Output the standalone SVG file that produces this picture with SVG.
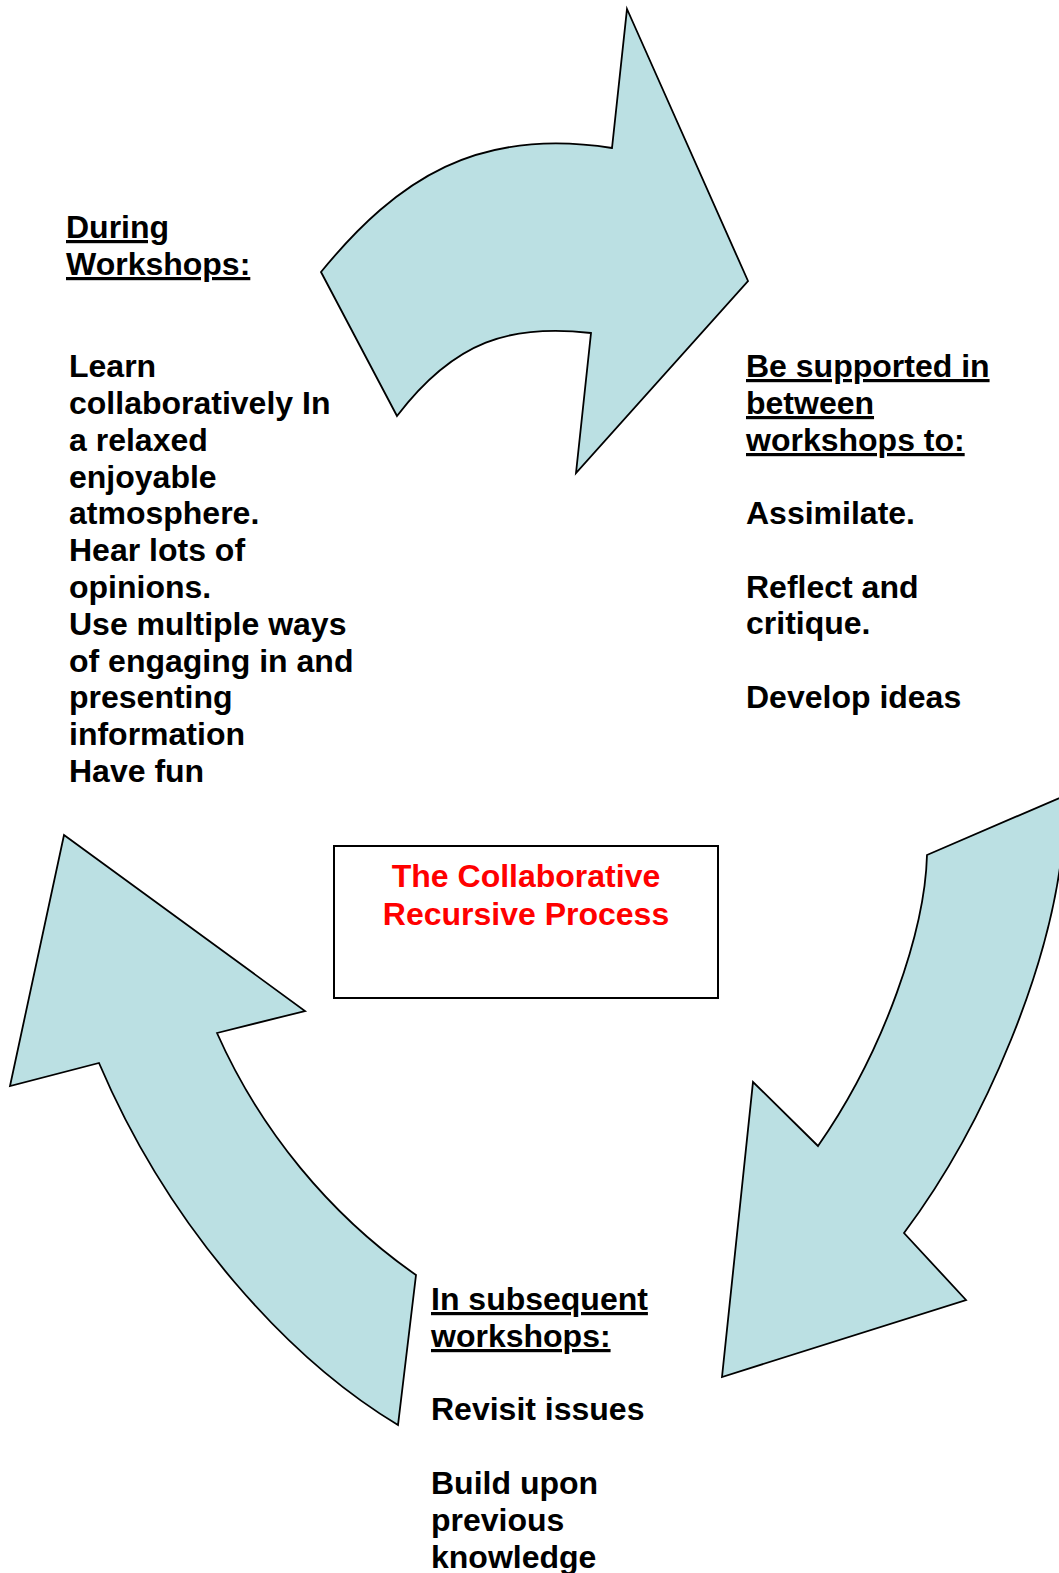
<svg xmlns="http://www.w3.org/2000/svg" width="1059" height="1573" viewBox="0 0 1059 1573">
<style>
.arrow{fill:#BBE0E3;stroke:#000;stroke-width:1.8;stroke-linejoin:miter}
.t{font-family:"Liberation Sans",Arial,sans-serif;font-weight:bold;font-size:32px;fill:#000}
.u{text-decoration:underline}
.red{fill:#FF0000}
.box{fill:#fff;stroke:#000;stroke-width:2}
</style>
<rect width="1059" height="1573" fill="#fff"/>
<g id="connectors">
<path class="arrow" d="M627,9 L748,281 L576,473 L591,333 C511,324 455,340 397,416 L321,272 C398,178 478,127 612,148 Z"/>
<path class="arrow" d="M927,855 L1064,796 L1064,830 C1055,960 985,1125 904,1233 L966,1300 L722,1377 L753,1082 L818,1146 C885,1050 925,930 927,855 Z"/>
<path class="arrow" d="M64,835 L305,1011 L217,1033 C260,1130 330,1215 416,1275 L398,1425 C290,1360 170,1230 99,1063 L10,1086 Z"/>
</g>
<g id="node-during">
<text class="t"><tspan class="u" x="66" y="238">During</tspan><tspan class="u" x="66" y="275">Workshops:</tspan></text>
<text class="t">
<tspan x="69" y="377">Learn</tspan>
<tspan x="69" y="414">collaboratively In</tspan>
<tspan x="69" y="451">a relaxed</tspan>
<tspan x="69" y="488">enjoyable</tspan>
<tspan x="69" y="524">atmosphere.</tspan>
<tspan x="69" y="561">Hear lots of</tspan>
<tspan x="69" y="598">opinions.</tspan>
<tspan x="69" y="635">Use multiple ways</tspan>
<tspan x="69" y="672">of engaging in and</tspan>
<tspan x="69" y="708">presenting</tspan>
<tspan x="69" y="745">information</tspan>
<tspan x="69" y="782">Have fun</tspan>
</text>
</g>
<g id="node-between">
<text class="t"><tspan class="u" x="746" y="377">Be supported in</tspan><tspan class="u" x="746" y="414">between</tspan><tspan class="u" x="746" y="451">workshops to:</tspan></text>
<text class="t">
<tspan x="746" y="524">Assimilate.</tspan>
<tspan x="746" y="598">Reflect and</tspan>
<tspan x="746" y="634">critique.</tspan>
<tspan x="746" y="708">Develop ideas</tspan>
</text>
</g>
<g id="node-subsequent">
<text class="t"><tspan class="u" x="431" y="1310">In subsequent</tspan><tspan class="u" x="431" y="1347">workshops:</tspan></text>
<text class="t">
<tspan x="431" y="1420">Revisit issues</tspan>
<tspan x="431" y="1494">Build upon</tspan>
<tspan x="431" y="1531">previous</tspan>
<tspan x="431" y="1568">knowledge</tspan>
</text>
</g>
<g id="node-center">
<rect class="box" x="334" y="846" width="384" height="152"/>
<text class="t red" text-anchor="middle"><tspan x="526" y="887">The Collaborative</tspan><tspan x="526" y="925">Recursive Process</tspan></text>
</g>
</svg>
